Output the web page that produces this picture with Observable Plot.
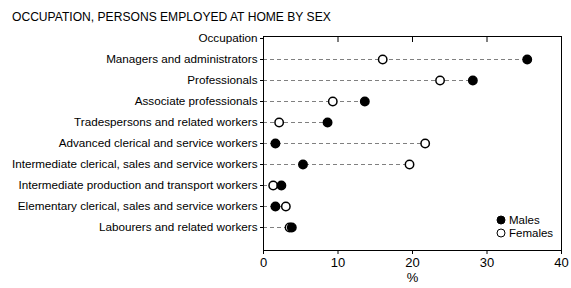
<!DOCTYPE html>
<html><head><meta charset="utf-8">
<script src="https://cdn.jsdelivr.net/npm/d3@7"></script>
<script src="https://cdn.jsdelivr.net/npm/@observablehq/plot@0.6"></script>
<style>
body{margin:0;background:#fff;font-family:"Liberation Sans",Arial,sans-serif;color:#000;}
#wrap{position:relative;width:571px;height:288px;overflow:hidden;}
#title{height:28px;box-sizing:border-box;padding:11px 0 0 12px;font-size:12.1px;line-height:13px;white-space:nowrap;}
#legend{position:absolute;left:496px;top:214px;font-size:11.5px;line-height:12.5px;}
#legend div{display:flex;align-items:center;}
#legend svg{margin-right:3px;}
</style></head><body>
<div id="wrap">
<div id="title">OCCUPATION, PERSONS EMPLOYED AT HOME BY SEX</div>
<div id="chart"></div>
<div id="legend">
<div><svg width="10" height="10"><circle cx="5" cy="5" r="4" fill="#000" stroke="#000"/></svg>Males</div>
<div><svg width="10" height="10"><circle cx="5" cy="5" r="4" fill="#fff" stroke="#000"/></svg>Females</div>
</div>
</div>
<script>
const headerLabel = "Occupation";
const occupations = [
  "Managers and administrators",
  "Professionals",
  "Associate professionals",
  "Tradespersons and related workers",
  "Advanced clerical and service workers",
  "Intermediate clerical, sales and service workers",
  "Intermediate production and transport workers",
  "Elementary clerical, sales and service workers",
  "Labourers and related workers"
];
const males   = [35.4, 28.1, 13.6, 8.6, 1.6, 5.3, 2.4, 1.6, 3.8];
const females = [16.0, 23.7, 9.3, 2.1, 21.7, 19.6, 1.3, 3.0, 3.5];
const xTicks = [0, 10, 20, 30, 40];
const xTopTicks = [10, 20, 30];
const xLabel = "%";

const rows = occupations.map((o, i) => ({occupation: o, males: males[i], females: females[i]}));
const yDomain = [headerLabel, ...occupations, ""];

const chart = Plot.plot({
  width: 571, height: 260,
  marginTop: 8, marginBottom: 38, marginLeft: 263, marginRight: 10,
  style: {fontFamily: "Liberation Sans, Arial, sans-serif", fontSize: "11.7px", color: "#000", background: "#fff", overflow: "visible"},
  x: {domain: [0, 40]},
  y: {type: "point", domain: yDomain, padding: 0},
  marks: [
    Plot.ruleY(rows, {y: "occupation", x1: 0, x2: d => Math.max(d.males, d.females), stroke: "#808080", strokeDasharray: "4,3"}),
    Plot.frame({stroke: "#000"}),
    Plot.axisX({anchor: "bottom", ticks: xTicks, tickSize: 4, tickPadding: 3, label: xLabel, labelAnchor: "center", labelArrow: "none", labelOffset: 31, fontSize: 13}),
    Plot.axisX({anchor: "top", ticks: xTopTicks, tickSize: -5, tickFormat: () => "", label: null}),
    Plot.axisY({ticks: [headerLabel, ...occupations], tickSize: 3, tickPadding: 3, label: null}),
    Plot.dot(rows, {x: "females", y: "occupation", r: 4.2, fill: "#fff", stroke: "#000"}),
    Plot.dot(rows, {x: "males", y: "occupation", r: 4.2, fill: "#000", stroke: "#000"})
  ]
});
document.getElementById("chart").appendChild(chart);
</script>
</body></html>
